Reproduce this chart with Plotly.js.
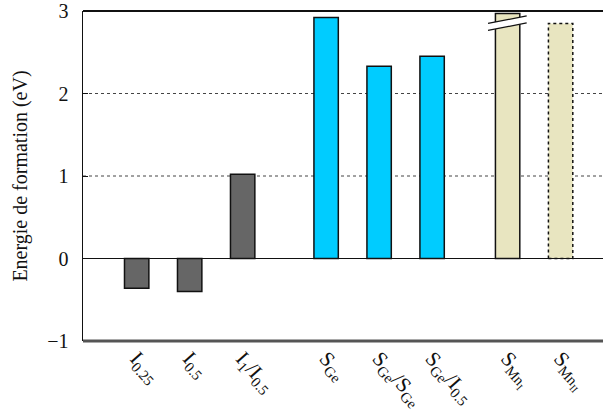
<!DOCTYPE html>
<html>
<head>
<meta charset="utf-8">
<script src="https://cdn.plot.ly/plotly-3.0.1.min.js"></script>
<style>html,body{margin:0;padding:0;background:#fff;}#chart{width:603px;height:416px;}</style>
</head>
<body>
<div id="chart"></div>
<script>
const categories = [
  'I<sub>0.25</sub>',
  'I<sub>0.5</sub>',
  'I<sub>1</sub>/I<sub>0.5</sub>',
  'S<sub>Ge</sub>',
  'S<sub>Ge</sub>/S<sub>Ge</sub>',
  'S<sub>Ge</sub>/I<sub>0.5</sub>',
  'S<sub>Mn<sub>I</sub></sub>',
  'S<sub>Mn<sub>II</sub></sub>'
];
const positions = [0, 1, 2, 3.575, 4.575, 5.575, 7, 8];
const values = [-0.36, -0.40, 1.02, 2.92, 2.33, 2.45, 2.97, 2.85];
const barColors = ['#666666', '#666666', '#666666', '#00CCFF', '#00CCFF', '#00CCFF', '#E8E5C0', '#E8E5C0'];
const solidBorder = [true, true, true, true, true, true, true, false];
const yTicks = [-1, 0, 1, 2, 3];
const yTickText = ['\u22121', '0', '1', '2', '3'];

const barWidth = 0.46;
const serif = '"Liberation Serif", "DejaVu Serif", serif';

const traces = [{
  type: 'bar',
  x: positions,
  y: values,
  width: barWidth,
  marker: {
    color: barColors,
    line: { color: solidBorder.map(s => s ? '#111' : 'rgba(0,0,0,0)'), width: 1.5 }
  },
  hoverinfo: 'none'
}];

// dotted outline for bars without a solid border
positions.forEach((p, i) => {
  if (!solidBorder[i]) {
    const l = p - barWidth / 2, r = p + barWidth / 2;
    traces.push({
      type: 'scatter', mode: 'lines',
      x: [l, l, r, r, l], y: [0, values[i], values[i], 0, 0],
      line: { color: '#111', width: 1.5, dash: 'dot' },
      hoverinfo: 'none', showlegend: false
    });
  }
});

const shapes = [
  { type: 'line', xref: 'paper', x0: 0, x1: 1, yref: 'y', y0: 1, y1: 1, line: { color: '#444', width: 1, dash: 'dot' }, layer: 'below' },
  { type: 'line', xref: 'paper', x0: 0, x1: 1, yref: 'y', y0: 2, y1: 2, line: { color: '#444', width: 1, dash: 'dot' }, layer: 'below' },
  { type: 'line', xref: 'paper', x0: 0, x1: 1, yref: 'y', y0: 0, y1: 0, line: { color: '#111', width: 1.2 } },
  { type: 'line', xref: 'paper', x0: 0, x1: 1, yref: 'paper', y0: 1, y1: 1, line: { color: '#111', width: 1.8 } },
  { type: 'line', xref: 'paper', x0: 0, x1: 1, yref: 'paper', y0: 0, y1: 0, line: { color: '#555', width: 3 } },
  { type: 'path', xref: 'x', yref: 'y', path: 'M 6.63 2.85 L 7.36 2.94 L 7.36 2.855 L 6.63 2.765 Z', fillcolor: '#fff', line: { width: 0 } },
  { type: 'line', xref: 'x', yref: 'y', x0: 6.63, y0: 2.85, x1: 7.36, y1: 2.94, line: { color: '#111', width: 1.2 } },
  { type: 'line', xref: 'x', yref: 'y', x0: 6.63, y0: 2.765, x1: 7.36, y1: 2.855, line: { color: '#111', width: 1.2 } }
];

const layout = {
  width: 603, height: 416,
  margin: { l: 83, r: 0, t: 11, b: 75 },
  paper_bgcolor: '#fff', plot_bgcolor: '#fff',
  showlegend: false,
  font: { family: serif, color: '#111', size: 20 },
  bargap: 0,
  xaxis: {
    range: [-1.013, 8.8],
    tickmode: 'array', tickvals: positions, ticktext: categories,
    tickangle: 48,
    tickfont: { family: serif, size: 21, color: '#111' },
    showgrid: false, zeroline: false, showline: false,
    ticks: '', ticklen: 0,
    automargin: false
  },
  yaxis: {
    range: [-1, 3],
    tickmode: 'array', tickvals: yTicks, ticktext: yTickText,
    tickfont: { family: serif, size: 20, color: '#111' },
    showgrid: false, zeroline: false,
    showline: true, linecolor: '#111', linewidth: 1.5,
    ticks: 'inside', ticklen: 5, tickcolor: '#111', tickwidth: 1,
    ticklabelstandoff: 9,
    automargin: false,
    title: { text: 'Energie de formation (eV)', font: { family: serif, size: 20, color: '#111' }, standoff: 14 }
  },
  shapes: shapes
};

Plotly.newPlot('chart', traces, layout, { staticPlot: true, displayModeBar: false });
</script>
</body>
</html>
